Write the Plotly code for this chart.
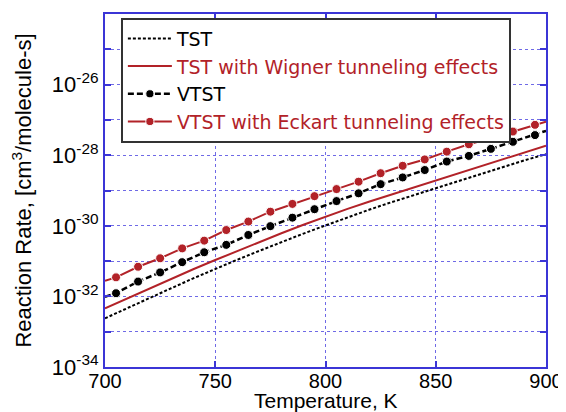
import plotly.graph_objects as go

# Temperatures (K)
T_line = [700, 710, 720, 730, 740, 750, 760, 770, 780, 790, 800,
          810, 820, 830, 840, 850, 860, 870, 880, 890, 900]
# log10 of rate constants
tst_log = [-32.62, -32.33, -32.05, -31.77, -31.49, -31.22, -30.96, -30.71, -30.46, -30.22, -29.99,
           -29.76, -29.54, -29.33, -29.13, -28.93, -28.73, -28.53, -28.34, -28.15, -27.97]
wigner_log = [-32.34, -32.06, -31.78, -31.50, -31.23, -30.97, -30.71, -30.46, -30.21, -29.97, -29.74,
              -29.52, -29.31, -29.11, -28.91, -28.72, -28.52, -28.32, -28.12, -27.92, -27.73]

T_vtst = [700, 705, 715, 725, 735, 745, 755, 765, 775, 785, 795,
          805, 815, 825, 835, 845, 855, 865, 875, 885, 895, 900]
vtst_log = [-32.01, -31.91, -31.58, -31.32, -31.03, -30.75, -30.54, -30.26, -30.01, -29.77, -29.53,
            -29.30, -29.08, -28.82, -28.63, -28.42, -28.18, -28.02, -27.82, -27.62, -27.43, -27.31]
eckart_log = [-31.56, -31.46, -31.16, -30.92, -30.64, -30.42, -30.12, -29.88, -29.60, -29.38, -29.16,
              -28.96, -28.75, -28.51, -28.30, -28.12, -27.90, -27.69, -27.52, -27.33, -27.14, -27.05]
# endpoints (700 K, 900 K) carry the line only, no marker
marker_shown = [0] + [1] * 20 + [0]

series_names = ["TST", "TST with Wigner tunneling effects",
                "VTST", "VTST with Eckart tunneling effects"]

x_ticks = [700, 750, 800, 850, 900]
y_exps = [-34, -33, -32, -31, -30, -29, -28, -27, -26, -25, -24]
y_labels = ["10<sup>%d</sup>" % e if (e % 2 == 0 and e != -24) else "" for e in y_exps]
x_title = "Temperature, K"
y_title = "Reaction Rate, [cm<sup>3</sup>/molecule-s]"

RED = "#b22228"
BLUE = "#3b35d6"
GRID = "#6f6ae6"


def colored(name, color):
    return "<span style='color:%s'>%s</span>" % (color, name)


tst = [10 ** v for v in tst_log]
wig = [10 ** v for v in wigner_log]
vts = [10 ** v for v in vtst_log]
eck = [10 ** v for v in eckart_log]
msize = [9 * m for m in marker_shown]

fig = go.Figure()
fig.add_trace(go.Scatter(x=T_line, y=tst, mode="lines", name=colored(series_names[0], "black"),
                         line=dict(color="black", width=2, dash="3px,2px")))
fig.add_trace(go.Scatter(x=T_line, y=wig, mode="lines", name=colored(series_names[1], RED),
                         line=dict(color=RED, width=2)))
fig.add_trace(go.Scatter(x=T_vtst, y=vts, mode="lines+markers", name=colored(series_names[2], "black"),
                         line=dict(color="black", width=2.5, dash="6px,3px"),
                         marker=dict(color="black", size=msize, symbol="circle", opacity=1)))
fig.add_trace(go.Scatter(x=T_vtst, y=eck, mode="lines+markers", name=colored(series_names[3], RED),
                         line=dict(color=RED, width=2),
                         marker=dict(color=RED, size=msize, symbol="circle", opacity=1)))

# the page body adds an 8px offset, so the figure is 8px smaller than the window
fig.update_layout(
    width=558, height=404,
    margin=dict(l=97, r=20, t=6, b=45, autoexpand=False),
    paper_bgcolor="white", plot_bgcolor="white",
    font=dict(family="Liberation Sans, Arial, sans-serif", size=21, color="black"),
    showlegend=True,
    legend=dict(x=0.036, y=0.99, xanchor="left", yanchor="top",
                bgcolor="white", bordercolor="#333333", borderwidth=2,
                font=dict(size=19, family="DejaVu Sans, sans-serif"),
                itemwidth=44, tracegroupgap=0),
    annotations=[dict(text=x_title, xref="paper", yref="paper", x=0.5, y=-0.131,
                      xanchor="center", yanchor="bottom", showarrow=False, borderpad=0,
                      font=dict(size=21, color="black"))],
)
fig.update_xaxes(
    range=[700, 900], tickvals=x_ticks, ticktext=[str(v) for v in x_ticks],
    showline=True, linecolor=BLUE, linewidth=2, mirror="ticks",
    ticks="inside", ticklen=6, tickcolor=BLUE, tickwidth=2,
    showgrid=True, gridcolor=GRID, griddash="dot", gridwidth=1,
    zeroline=False, automargin=False, ticklabelstandoff=-5,
    tickfont=dict(size=20),
)
fig.update_yaxes(
    type="log", range=[-34, -24],
    tickvals=[10 ** e for e in y_exps], ticktext=y_labels,
    showline=True, linecolor=BLUE, linewidth=2, mirror="ticks",
    ticks="inside", ticklen=6, tickcolor=BLUE, tickwidth=2,
    showgrid=True, gridcolor=GRID, griddash="dot", gridwidth=1,
    zeroline=False, automargin=False,
    title=dict(text=y_title, font=dict(size=22), standoff=16),
    tickfont=dict(size=22),
)

fig.write_html("out.html")
